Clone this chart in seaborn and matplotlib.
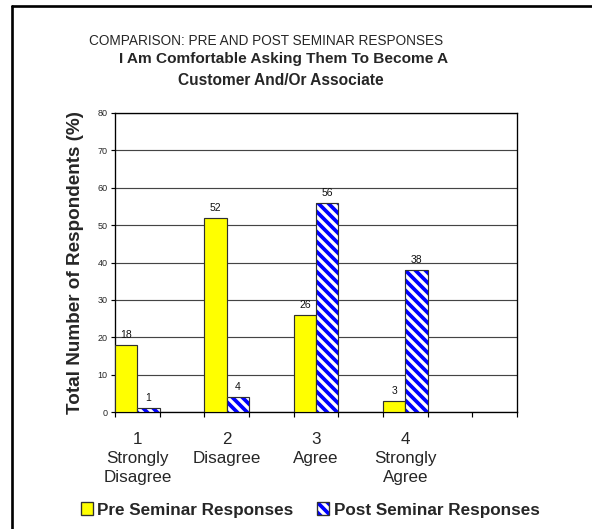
import matplotlib
matplotlib.use("Agg")
import matplotlib.pyplot as plt
from matplotlib.patches import Rectangle, Patch
from matplotlib.lines import Line2D
from matplotlib.legend_handler import HandlerTuple
import seaborn as sns
import pandas as pd

# Survey data
categories = ["1\nStrongly\nDisagree", "2\nDisagree", "3\nAgree", "4\nStrongly\nAgree"]
groups = ["Pre Seminar Responses", "Post Seminar Responses"]
pre_values = [18, 52, 26, 3]
post_values = [1, 4, 56, 38]
y_ticks = [0, 10, 20, 30, 40, 50, 60, 70, 80]

title_top = "COMPARISON: PRE AND POST SEMINAR RESPONSES"
title_main_1 = "I Am Comfortable Asking Them To Become A"
title_main_2 = "Customer And/Or Associate"
y_label = "Total Number of Respondents (%)"

PRE_COLOR = "#FFFF00"
POST_COLOR = "#0000FF"
EDGE = "#303030"
STRIPES = "\\\\\\\\"

df = pd.DataFrame({
    "category": categories * 2,
    "group": [groups[0]] * len(categories) + [groups[1]] * len(categories),
    "value": pre_values + post_values,
})

sns.set_theme(style="white")
plt.rcParams["font.family"] = ["Liberation Sans", "DejaVu Sans"]
plt.rcParams["hatch.linewidth"] = 2.0

DPI = 120
W, H = 592, 529
fig = plt.figure(figsize=(W / DPI, H / DPI), dpi=DPI, facecolor="white")
ax = fig.add_axes([115 / W, (H - 412) / H, 402 / W, 299 / H])

sns.barplot(data=df, x="category", y="value", hue="group", order=categories,
            hue_order=groups, palette=[PRE_COLOR, POST_COLOR], saturation=1,
            width=0.5, dodge=True, edgecolor=EDGE, linewidth=0.7,
            legend=False, ax=ax, zorder=3)

pre_bars, post_bars = ax.containers[0], ax.containers[1]

# Post bars: blue with white diagonal stripes and a dark outline
for p in post_bars.patches:
    p.set_hatch(STRIPES)
    p.set_edgecolor("white")
    p.set_linewidth(0)
    ax.add_patch(Rectangle(p.get_xy(), p.get_width(), p.get_height(),
                           fill=False, edgecolor=EDGE, linewidth=0.7, zorder=4))

val_fs = 6.2
ax.bar_label(pre_bars, labels=[str(v) for v in pre_values], padding=3,
             fontsize=val_fs, color="#111111")
ax.bar_label(post_bars, labels=[str(v) for v in post_values], padding=3,
             fontsize=val_fs, color="#111111")

ax.set_xlim(-0.25, 4.25)
ax.set_ylim(0, 80)
ax.set_yticks(y_ticks)
ax.set_yticklabels([str(t) for t in y_ticks], fontsize=5.4)
ax.set_xticks(range(len(categories)))
ax.set_xticklabels(categories, fontsize=10.2, linespacing=1.35)
ax.set_xticks([-0.25 + 0.5 * k for k in range(10)], minor=True)
ax.tick_params(axis="x", which="major", length=0, pad=12)
ax.tick_params(axis="x", which="minor", length=3.2, width=0.7, direction="out",
               color="black", bottom=True)
ax.tick_params(axis="y", which="major", length=2.5, width=0.7, direction="out",
               color="black", left=True, pad=2)
ax.set_xlabel("")
ax.set_ylabel(y_label, fontsize=11.3, fontweight="bold", labelpad=8)

ax.set_axisbelow(True)
ax.yaxis.grid(True, color="#444444", linewidth=0.7)
ax.xaxis.grid(False)
for s in ax.spines.values():
    s.set_visible(True)
    s.set_color("black")
    s.set_linewidth(0.8)
ax.set_facecolor("white")

# Titles
fig.text(266 / W, 1 - 45 / H, title_top, ha="center", va="baseline", fontsize=8.2)
fig.text(284 / W, 1 - 63 / H, title_main_1, ha="center", va="baseline",
         fontsize=9.2, fontweight="bold")
fig.text(281 / W, 1 - 85 / H, title_main_2, ha="center", va="baseline",
         fontsize=9.3, fontweight="bold")

# Legend
h_pre = Patch(facecolor=PRE_COLOR, edgecolor=EDGE, linewidth=0.8)
h_post = (Patch(facecolor=POST_COLOR, edgecolor="white", linewidth=0, hatch=STRIPES),
          Patch(facecolor="none", edgecolor=EDGE, linewidth=0.8))
fig.legend([h_pre, h_post], groups, loc="center", ncol=2,
           bbox_to_anchor=(310 / W, 1 - 510 / H), frameon=False,
           prop={"size": 10.3, "weight": "bold"}, handlelength=0.7,
           handleheight=0.7, handletextpad=0.25, columnspacing=1.4,
           handler_map={tuple: HandlerTuple(ndivide=1, pad=0)})

# Frame lines along the left and top edges
fig.add_artist(Line2D([11.5 / W, 11.5 / W], [0, 1 - 5.5 / H], color="black",
                      linewidth=1.6, transform=fig.transFigure))
fig.add_artist(Line2D([11.5 / W, 1], [1 - 5.5 / H, 1 - 5.5 / H], color="black",
                      linewidth=1.6, transform=fig.transFigure))

fig.savefig("out.png", dpi=DPI, facecolor="white")
